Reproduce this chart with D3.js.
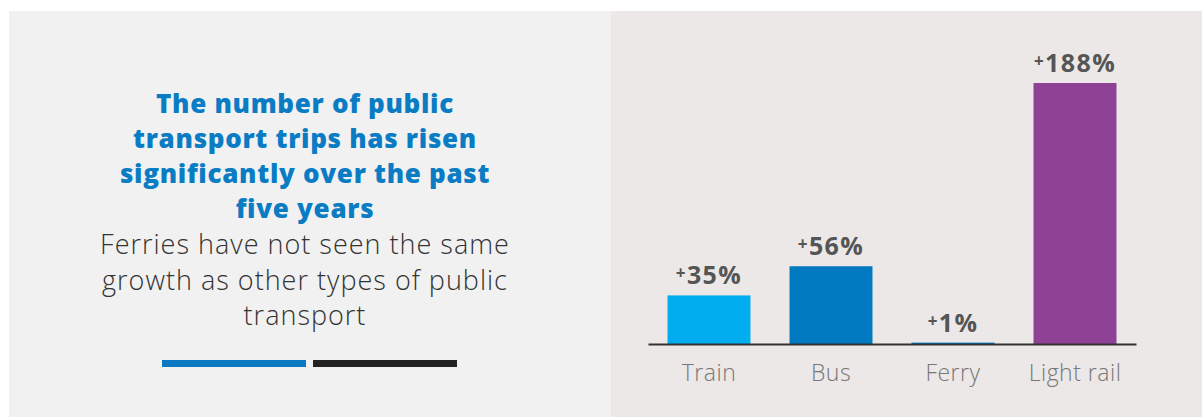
<!DOCTYPE html>
<html>
<head>
<meta charset="utf-8">
<script src="https://cdn.jsdelivr.net/npm/d3@7"></script>
<style>
  body { margin: 0; background: #fff; }
  svg { display: block; font-family: "Open Sans", Lato, sans-serif; }
</style>
</head>
<body>
<svg id="chart" width="1202" height="417"></svg>
<script>
// data
const categories = ["Train", "Bus", "Ferry", "Light rail"];
const growth = [35, 56, 1, 188];
const valueLabels = ["35%", "56%", "1%", "188%"];
const barColors = ["#00aeef", "#0079c1", "#0079c1", "#8e4195"];
const titleLines = ["The number of public", "transport trips has risen", "significantly over the past", "five years"];
const subtitleLines = ["Ferries have not seen the same", "growth as other types of public", "transport"];

const svg = d3.select("#chart");

// background panels
svg.append("rect").attr("x", 9).attr("y", 11).attr("width", 602).attr("height", 406).attr("fill", "#f1f1f1");
svg.append("rect").attr("x", 611).attr("y", 11).attr("width", 591).attr("height", 406).attr("fill", "#ebe8e7");

// left text block
const textX = 305;
svg.append("g").selectAll("text")
  .data(titleLines)
  .enter()
  .append("text")
  .attr("x", textX)
  .attr("y", (d, i) => 113 + i * 35)
  .attr("text-anchor", "middle")
  .attr("fill", "#0a7cc4")
  .attr("font-size", 26)
  .attr("font-weight", 800)
  .attr("letter-spacing", 0.7)
  .text(d => d);

svg.append("g").selectAll("text")
  .data(subtitleLines)
  .enter()
  .append("text")
  .attr("x", textX)
  .attr("y", (d, i) => 254 + i * 35.5)
  .attr("text-anchor", "middle")
  .attr("fill", "#333")
  .attr("font-size", 27)
  .attr("font-weight", 300)
  .attr("letter-spacing", 1)
  .text(d => d);

// two little rules under the text
svg.append("rect").attr("x", 162).attr("y", 360).attr("width", 144).attr("height", 7).attr("fill", "#0a79c2");
svg.append("rect").attr("x", 313).attr("y", 360).attr("width", 144).attr("height", 7).attr("fill", "#222");

// bar chart
const x = d3.scaleBand()
  .domain(categories)
  .range([648, 1136])
  .paddingInner(0.32)
  .paddingOuter(0.16);

const y = d3.scaleLinear()
  .domain([0, 188])
  .range([344, 83]);

const rows = categories.map((c, i) => ({ cat: c, value: growth[i], label: valueLabels[i], color: barColors[i] }));

svg.append("g").selectAll("rect")
  .data(rows)
  .enter()
  .append("rect")
  .attr("x", d => x(d.cat))
  .attr("y", d => y(d.value))
  .attr("width", x.bandwidth())
  .attr("height", d => y(0) - y(d.value))
  .attr("fill", d => d.color);

// value labels, small raised plus
const vl = svg.append("g").selectAll("text")
  .data(rows)
  .enter()
  .append("text")
  .attr("x", d => x(d.cat) + x.bandwidth() / 2)
  .attr("y", d => y(d.value) - 11)
  .attr("text-anchor", "middle")
  .attr("fill", "#555")
  .attr("font-weight", 700)
  .attr("font-size", 25)
  .attr("letter-spacing", 1.4);
vl.append("tspan").attr("font-size", 17).attr("dy", -5).text("+");
vl.append("tspan").attr("dy", 5).text(d => d.label);

// axis
const axis = svg.append("g")
  .attr("transform", "translate(0," + y(0) + ")")
  .call(d3.axisBottom(x).tickSize(0).tickPadding(21));
axis.select(".domain").attr("stroke", "#333").attr("stroke-width", 2);
axis.selectAll("text")
  .attr("fill", "#777")
  .attr("font-size", 23)
  .attr("font-weight", 300)
  .attr("letter-spacing", 0.5)
  .attr("font-family", "'Open Sans', sans-serif");
</script>
</body>
</html>
